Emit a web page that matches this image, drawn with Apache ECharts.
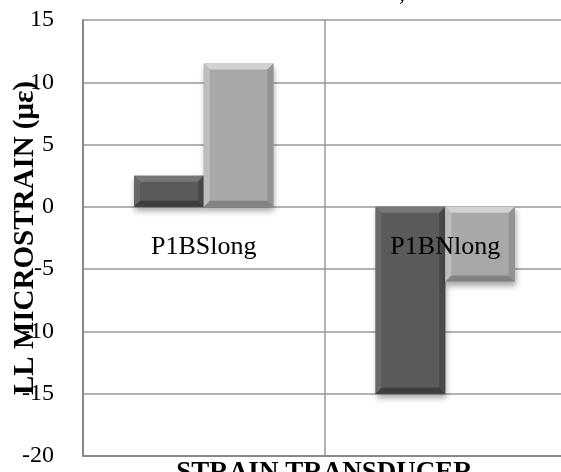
<!DOCTYPE html>
<html>
<head>
<meta charset="utf-8">
<script src="https://cdn.jsdelivr.net/npm/echarts@6/dist/echarts.min.js"></script>
<style>
html,body{margin:0;padding:0;background:#fff;overflow:hidden;}
#c{width:561px;height:472px;}
</style>
</head>
<body>
<div id="c"></div>
<script>
const categories = ['P1BSlong', 'P1BNlong'];
const seriesDark = [2.5, -15];
const seriesLight = [11.5, -6];
const yTicks = { min: -20, max: 15, interval: 5 };

const FONT = '"Liberation Serif", "Times New Roman", serif';

const palettes = [
  { body: '#5a5a5a', top: '#787878', left: '#686868', right: '#4a4a4a', bottom: '#3e3e3e' },
  { body: '#a8a8a8', top: '#d2d2d2', left: '#bdbdbd', right: '#939393', bottom: '#838383' }
];

function makeRender(sIdx) {
  return function (params, api) {
    const ci = api.value(0);
    const v = api.value(1);
    const bandW = api.size([1, 0])[0];
    const barW = bandW * 0.2885;
    const base = api.coord([ci, 0]);
    const tip = api.coord([ci, v]);
    const x0 = base[0] + (sIdx - 1) * barW;
    const x1 = x0 + barW;
    const y0 = Math.min(base[1], tip[1]);
    const y1 = Math.max(base[1], tip[1]);
    const h = y1 - y0;
    const b = Math.min(6, h / 2, barW / 2);
    const p = palettes[sIdx];
    return {
      type: 'group',
      children: [
        { type: 'rect', shape: { x: x0, y: y0, width: barW, height: h },
          style: { fill: p.body, shadowBlur: 6, shadowOffsetY: 4, shadowOffsetX: 1, shadowColor: 'rgba(0,0,0,0.35)' } },
        { type: 'polygon', shape: { points: [[x0, y0], [x1, y0], [x1 - b, y0 + b], [x0 + b, y0 + b]] }, style: { fill: p.top } },
        { type: 'polygon', shape: { points: [[x0, y1], [x1, y1], [x1 - b, y1 - b], [x0 + b, y1 - b]] }, style: { fill: p.bottom } },
        { type: 'polygon', shape: { points: [[x0, y0], [x0 + b, y0 + b], [x0 + b, y1 - b], [x0, y1]] }, style: { fill: p.left } },
        { type: 'polygon', shape: { points: [[x1, y0], [x1 - b, y0 + b], [x1 - b, y1 - b], [x1, y1]] }, style: { fill: p.right } }
      ]
    };
  };
}

const chart = echarts.init(document.getElementById('c'), null, { renderer: 'canvas' });
chart.setOption({
  animation: false,
  backgroundColor: '#ffffff',
  grid: { left: 83, right: -5, top: 20, bottom: 16, containLabel: false, outerBoundsMode: 'none' },
  xAxis: [
    {
      type: 'category',
      data: categories,
      axisLine: { show: true, onZero: false, lineStyle: { color: '#888888', width: 2 } },
      axisTick: { show: false },
      axisLabel: { show: false },
      splitLine: { show: true, lineStyle: { color: '#999999', width: 1.5 } }
    },
    {
      type: 'category',
      data: categories,
      position: 'bottom',
      offset: 0,
      z: 10,
      axisLine: { show: false, onZero: false },
      axisTick: { show: false },
      axisLabel: { color: '#000', fontFamily: FONT, fontSize: 26, margin: 27 },
      splitLine: { show: false }
    }
  ],
  yAxis: {
    type: 'value',
    min: yTicks.min,
    max: yTicks.max,
    interval: yTicks.interval,
    name: 'LL MICROSTRAIN (με)',
    nameLocation: 'middle',
    nameRotate: 90,
    nameGap: 43,
    nameMoveOverlap: false,
    nameTextStyle: { color: '#000', fontFamily: FONT, fontSize: 29, fontWeight: 'bold' },
    axisLine: { show: true, lineStyle: { color: '#888888', width: 2 } },
    axisTick: { show: false },
    axisLabel: { color: '#000', fontFamily: FONT, fontSize: 24, margin: 29 },
    splitLine: { show: true, lineStyle: { color: '#999999', width: 1.5 } }
  },
  graphic: [
    { type: 'text', x: 324.5, y: 460, style: { text: 'STRAIN TRANSDUCER', fill: '#000', font: 'bold 27px ' + FONT, textAlign: 'center', textVerticalAlign: 'top' } },
    { type: 'text', x: 402, y: -18, style: { text: ',', fill: '#000', font: '24px ' + FONT, textAlign: 'center', textVerticalAlign: 'top' } }
  ],
  series: [
    { type: 'custom', name: 'dark', xAxisIndex: 0, renderItem: makeRender(0), data: seriesDark.map((v, i) => [i, v]), encode: { x: 0, y: 1 }, z: 3 },
    { type: 'custom', name: 'light', xAxisIndex: 0, renderItem: makeRender(1), data: seriesLight.map((v, i) => [i, v]), encode: { x: 0, y: 1 }, z: 3 }
  ]
});
// place category labels along the zero line, using the library's own y scale
const yZero = chart.convertToPixel({ yAxisIndex: 0 }, 0);
const yMinPx = chart.convertToPixel({ yAxisIndex: 0 }, yTicks.min);
chart.setOption({ xAxis: [{}, { offset: yZero - yMinPx }] });
</script>
</body>
</html>
